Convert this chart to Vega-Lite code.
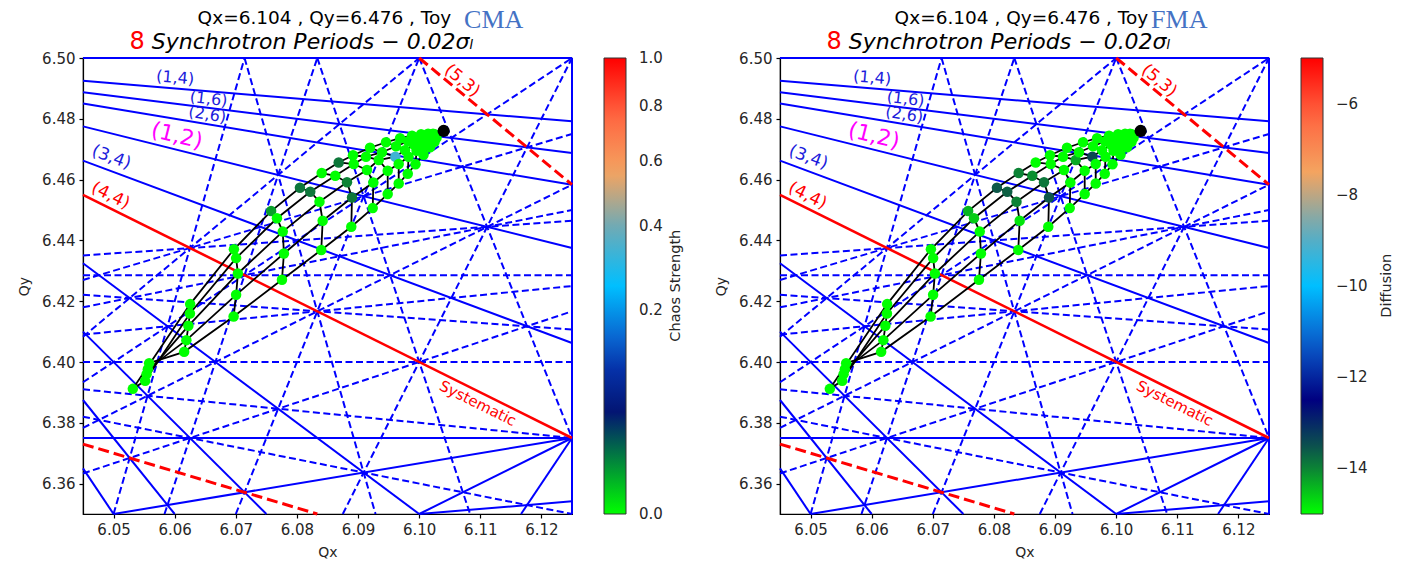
{
"$schema": "https://vega.github.io/schema/vega-lite/v6.json",
"background": "white",
"autosize": {"type": "pad"},
"padding": {"left": 17, "top": 6, "right": 0, "bottom": 0},
"bounds": "flush",
"spacing": 208,
"datasets": {
"res": [
{"qx":6.045,"qy":6.4925,"qx2":6.125,"qy2":6.479167,"kind":"normal"},
{"qx":6.045,"qy":6.48875,"qx2":6.125,"qy2":6.46875,"kind":"normal"},
{"qx":6.045,"qy":6.485,"qx2":6.125,"qy2":6.458333,"kind":"normal"},
{"qx":6.045,"qy":6.4775,"qx2":6.125,"qy2":6.4375,"kind":"normal"},
{"qx":6.045,"qy":6.46625,"qx2":6.125,"qy2":6.40625,"kind":"normal"},
{"qx":6.045,"qy":6.4325,"qx2":6.1,"qy2":6.35,"kind":"normal"},
{"qx":6.045,"qy":6.41,"qx2":6.075,"qy2":6.35,"kind":"normal"},
{"qx":6.045,"qy":6.3875,"qx2":6.06,"qy2":6.35,"kind":"normal"},
{"qx":6.045,"qy":6.365,"qx2":6.05,"qy2":6.35,"kind":"normal"},
{"qx":6.05,"qy":6.35,"qx2":6.125,"qy2":6.375,"kind":"normal"},
{"qx":6.116667,"qy":6.35,"qx2":6.125,"qy2":6.375,"kind":"normal"},
{"qx":6.1,"qy":6.35,"qx2":6.125,"qy2":6.354167,"kind":"normal"},
{"qx":6.1,"qy":6.35,"qx2":6.125,"qy2":6.375,"kind":"normal"},
{"qx":6.045,"qy":6.375,"qx2":6.125,"qy2":6.375,"kind":"normal"},
{"qx":6.045,"qy":6.5,"qx2":6.125,"qy2":6.5,"kind":"normal"},
{"qx":6.125,"qy":6.35,"qx2":6.125,"qy2":6.5,"kind":"normal"},
{"qx":6.045,"qy":6.428571,"qx2":6.125,"qy2":6.428571,"kind":"skew"},
{"qx":6.045,"qy":6.4,"qx2":6.125,"qy2":6.4,"kind":"skew"},
{"qx":6.0875,"qy":6.35,"qx2":6.125,"qy2":6.5,"kind":"skew"},
{"qx":6.045,"qy":6.363333,"qx2":6.125,"qy2":6.416667,"kind":"skew"},
{"qx":6.1,"qy":6.5,"qx2":6.125,"qy2":6.375,"kind":"skew"},
{"qx":6.045,"qy":6.391,"qx2":6.125,"qy2":6.375,"kind":"skew"},
{"qx":6.07,"qy":6.35,"qx2":6.1,"qy2":6.5,"kind":"skew"},
{"qx":6.045,"qy":6.378333,"qx2":6.125,"qy2":6.458333,"kind":"skew"},
{"qx":6.045,"qy":6.409,"qx2":6.125,"qy2":6.425,"kind":"skew"},
{"qx":6.083333,"qy":6.5,"qx2":6.108333,"qy2":6.35,"kind":"skew"},
{"qx":6.045,"qy":6.382,"qx2":6.125,"qy2":6.35,"kind":"skew"},
{"qx":6.058333,"qy":6.35,"qx2":6.083333,"qy2":6.5,"kind":"skew"},
{"qx":6.045,"qy":6.393333,"qx2":6.125,"qy2":6.5,"kind":"skew"},
{"qx":6.045,"qy":6.418,"qx2":6.125,"qy2":6.45,"kind":"skew"},
{"qx":6.071429,"qy":6.5,"qx2":6.092857,"qy2":6.35,"kind":"skew"},
{"qx":6.045,"qy":6.422143,"qx2":6.125,"qy2":6.410714,"kind":"skew"},
{"qx":6.05,"qy":6.35,"qx2":6.071429,"qy2":6.5,"kind":"skew"},
{"qx":6.045,"qy":6.408333,"qx2":6.1,"qy2":6.5,"kind":"skew"},
{"qx":6.045,"qy":6.427,"qx2":6.125,"qy2":6.475,"kind":"skew"},
{"qx":6.045,"qy":6.435,"qx2":6.125,"qy2":6.446429,"kind":"skew"},
{"qx":6.045,"qy":6.455,"qx2":6.125,"qy2":6.375,"kind":"systematic"},
{"qx":6.1,"qy":6.5,"qx2":6.125,"qy2":6.458333,"kind":"systematic skew"},
{"qx":6.045,"qy":6.373,"qx2":6.083333,"qy2":6.35,"kind":"systematic skew"}
],
"fp": [
{"i":1,"j":0,"qx":6.05315,"qy":6.39117,"cma":0,"fma":-15},
{"i":1,"j":1,"qx":6.05517,"qy":6.3938,"cma":0,"fma":-15},
{"i":1,"j":2,"qx":6.0554,"qy":6.396,"cma":0,"fma":-15},
{"i":1,"j":3,"qx":6.05561,"qy":6.39765,"cma":0,"fma":-15},
{"i":1,"j":4,"qx":6.05582,"qy":6.39962,"cma":0,"fma":-15},
{"i":2,"j":0,"qx":6.06253,"qy":6.41904,"cma":0,"fma":-15},
{"i":2,"j":1,"qx":6.06249,"qy":6.41595,"cma":0,"fma":-15},
{"i":2,"j":2,"qx":6.06224,"qy":6.4119,"cma":0,"fma":-15},
{"i":2,"j":3,"qx":6.06191,"qy":6.40719,"cma":0,"fma":-15},
{"i":2,"j":4,"qx":6.06155,"qy":6.40334,"cma":0,"fma":-15},
{"i":3,"j":0,"qx":6.06969,"qy":6.43708,"cma":0,"fma":-15},
{"i":3,"j":1,"qx":6.07005,"qy":6.43418,"cma":0,"fma":-15},
{"i":3,"j":2,"qx":6.07034,"qy":6.42911,"cma":0,"fma":-15},
{"i":3,"j":3,"qx":6.07005,"qy":6.4221,"cma":0,"fma":-15},
{"i":3,"j":4,"qx":6.06964,"qy":6.41496,"cma":0,"fma":-15},
{"i":4,"j":0,"qx":6.07578,"qy":6.44965,"cma":0.006,"fma":-14.4},
{"i":4,"j":1,"qx":6.07673,"qy":6.44728,"cma":0,"fma":-14.6},
{"i":4,"j":2,"qx":6.07768,"qy":6.4429,"cma":0,"fma":-15},
{"i":4,"j":3,"qx":6.07787,"qy":6.43569,"cma":0,"fma":-15},
{"i":4,"j":4,"qx":6.07755,"qy":6.42704,"cma":0,"fma":-15},
{"i":5,"j":0,"qx":6.08049,"qy":6.45732,"cma":0.012,"fma":-13.6},
{"i":5,"j":1,"qx":6.08218,"qy":6.456,"cma":0.012,"fma":-13.7},
{"i":5,"j":2,"qx":6.08369,"qy":6.45271,"cma":0,"fma":-14.0},
{"i":5,"j":3,"qx":6.08421,"qy":6.44646,"cma":0,"fma":-14.8},
{"i":5,"j":4,"qx":6.08398,"qy":6.43685,"cma":0,"fma":-15},
{"i":6,"j":0,"qx":6.08405,"qy":6.46215,"cma":0,"fma":-14.0},
{"i":6,"j":1,"qx":6.08627,"qy":6.46126,"cma":0,"fma":-14.1},
{"i":6,"j":2,"qx":6.08819,"qy":6.45913,"cma":0.01,"fma":-13.9},
{"i":6,"j":3,"qx":6.08901,"qy":6.45412,"cma":0.012,"fma":-13.6},
{"i":6,"j":4,"qx":6.08889,"qy":6.44448,"cma":0,"fma":-15},
{"i":7,"j":0,"qx":6.08683,"qy":6.46564,"cma":0.012,"fma":-15},
{"i":7,"j":1,"qx":6.08929,"qy":6.46512,"cma":0,"fma":-15},
{"i":7,"j":2,"qx":6.09146,"qy":6.46314,"cma":0,"fma":-15},
{"i":7,"j":3,"qx":6.0925,"qy":6.45906,"cma":0,"fma":-15},
{"i":7,"j":4,"qx":6.0924,"qy":6.45063,"cma":0,"fma":-15},
{"i":8,"j":0,"qx":6.08917,"qy":6.46801,"cma":0,"fma":-15},
{"i":8,"j":1,"qx":6.0913,"qy":6.46752,"cma":0,"fma":-15},
{"i":8,"j":2,"qx":6.09338,"qy":6.46643,"cma":0,"fma":-14.3},
{"i":8,"j":3,"qx":6.09485,"qy":6.46291,"cma":0,"fma":-15},
{"i":8,"j":4,"qx":6.09485,"qy":6.45524,"cma":0,"fma":-15},
{"i":9,"j":0,"qx":6.09195,"qy":6.47048,"cma":0,"fma":-15},
{"i":9,"j":1,"qx":6.09392,"qy":6.469,"cma":0,"fma":-15},
{"i":9,"j":2,"qx":6.0961,"qy":6.46752,"cma":0.33,"fma":-13.4},
{"i":9,"j":3,"qx":6.09665,"qy":6.46512,"cma":0,"fma":-15},
{"i":9,"j":4,"qx":6.09665,"qy":6.45873,"cma":0,"fma":-15},
{"i":10,"j":0,"qx":6.09457,"qy":6.47229,"cma":0,"fma":-15},
{"i":10,"j":1,"qx":6.09621,"qy":6.47097,"cma":0,"fma":-15},
{"i":10,"j":2,"qx":6.09768,"qy":6.46966,"cma":0,"fma":-15},
{"i":10,"j":3,"qx":6.09826,"qy":6.46752,"cma":0,"fma":-15},
{"i":10,"j":4,"qx":6.09813,"qy":6.46192,"cma":0,"fma":-15},
{"i":11,"j":0,"qx":6.09687,"qy":6.47361,"cma":0,"fma":-15},
{"i":11,"j":1,"qx":6.09818,"qy":6.47262,"cma":0,"fma":-15},
{"i":11,"j":2,"qx":6.09916,"qy":6.47147,"cma":0,"fma":-15},
{"i":11,"j":3,"qx":6.09957,"qy":6.46949,"cma":0,"fma":-15},
{"i":11,"j":4,"qx":6.0994,"qy":6.46505,"cma":0,"fma":-15},
{"i":12,"j":0,"qx":6.09883,"qy":6.47443,"cma":0,"fma":-15},
{"i":12,"j":1,"qx":6.09981,"qy":6.47377,"cma":0,"fma":-15},
{"i":12,"j":2,"qx":6.10047,"qy":6.47278,"cma":0,"fma":-15},
{"i":12,"j":3,"qx":6.10071,"qy":6.47114,"cma":0,"fma":-15},
{"i":12,"j":4,"qx":6.10071,"qy":6.46818,"cma":0,"fma":-15},
{"i":13,"j":0,"qx":6.10031,"qy":6.47492,"cma":0,"fma":-15},
{"i":13,"j":1,"qx":6.10104,"qy":6.47443,"cma":0,"fma":-15},
{"i":13,"j":2,"qx":6.10153,"qy":6.47377,"cma":0,"fma":-15},
{"i":13,"j":3,"qx":6.1017,"qy":6.47262,"cma":0,"fma":-15},
{"i":13,"j":4,"qx":6.10178,"qy":6.47064,"cma":0,"fma":-15},
{"i":14,"j":0,"qx":6.10145,"qy":6.47509,"cma":0,"fma":-15},
{"i":14,"j":1,"qx":6.10194,"qy":6.47476,"cma":0,"fma":-15},
{"i":14,"j":2,"qx":6.10227,"qy":6.47433,"cma":0,"fma":-15},
{"i":14,"j":3,"qx":6.10243,"qy":6.47361,"cma":0,"fma":-15},
{"i":14,"j":4,"qx":6.10252,"qy":6.47245,"cma":0,"fma":-15},
{"i":15,"j":0,"qx":6.10227,"qy":6.47509,"cma":0,"fma":-15},
{"i":15,"j":1,"qx":6.10252,"qy":6.47492,"cma":0,"fma":-15},
{"i":15,"j":2,"qx":6.10268,"qy":6.47469,"cma":0,"fma":-15},
{"i":15,"j":3,"qx":6.10276,"qy":6.47433,"cma":0,"fma":-15},
{"i":15,"j":4,"qx":6.10284,"qy":6.47377,"cma":0,"fma":-15}
],
"labels14": [{"qx":6.06008,"qy":6.49345,"label":"(1,4)"}],
"labels16": [{"qx":6.06555,"qy":6.48651,"label":"(1,6)"}],
"labels26": [{"qx":6.06535,"qy":6.48134,"label":"(2,6)"}],
"labels12": [{"qx":6.06036,"qy":6.47443,"label":"(1,2)"}],
"labels34": [{"qx":6.04963,"qy":6.46729,"label":"(3,4)"}],
"labels44": [{"qx":6.0495,"qy":6.45468,"label":"(4,4)"}],
"labels53": [{"qx":6.10702,"qy":6.49253,"label":"(5,3)"}],
"labelsys": [{"qx":6.1096,"qy":6.3864,"label":"Systematic"}],
"title1": [{"qx":6.0845,"qy":6.5112,"label":"Qx=6.104 , Qy=6.476 , Toy"}],
"title8": [{"qx":6.05512,"qy":6.50306,"label":"8"}],
"title2": [{"qx":6.05626,"qy":6.50306,"label":"Synchrotron Periods − 0.02σₗ"}],
"bare": [{"qx":6.104,"qy":6.476}]
},
"hconcat": [
{
"width": 489, "height": 456,
"encoding": {
"x": {"field": "qx", "type": "quantitative", "scale": {"domain": [6.045, 6.125], "nice": false, "zero": false}, "axis": {"title": "Qx", "values": [6.05,6.06,6.07,6.08,6.09,6.1,6.11,6.12], "format": ".2f", "labelPadding": 4, "titlePadding": 8, "labelFlush": false}},
"y": {"field": "qy", "type": "quantitative", "scale": {"domain": [6.35, 6.5], "nice": false, "zero": false}, "axis": {"title": "Qy", "values": [6.36,6.38,6.4,6.42,6.44,6.46,6.48,6.5], "format": ".2f", "labelPadding": 4, "titlePadding": 10, "labelFlush": false}}
},
"layer": [
{"data": {"name": "res"}, "transform": [{"filter": "datum.kind == 'normal'"}], "mark": {"type": "rule", "color": "#0000ff", "strokeWidth": 2}, "encoding": {"x2": {"field": "qx2"}, "y2": {"field": "qy2"}}},
{"data": {"name": "res"}, "transform": [{"filter": "datum.kind == 'skew'"}], "mark": {"type": "rule", "color": "#0000ff", "strokeWidth": 2, "strokeDash": [7, 3.5]}, "encoding": {"x2": {"field": "qx2"}, "y2": {"field": "qy2"}}},
{"data": {"name": "res"}, "transform": [{"filter": "datum.kind == 'systematic'"}], "mark": {"type": "rule", "color": "#ff0000", "strokeWidth": 2.6}, "encoding": {"x2": {"field": "qx2"}, "y2": {"field": "qy2"}}},
{"data": {"name": "res"}, "transform": [{"filter": "datum.kind == 'systematic skew'"}], "mark": {"type": "rule", "color": "#ff0000", "strokeWidth": 3, "strokeDash": [11, 5]}, "encoding": {"x2": {"field": "qx2"}, "y2": {"field": "qy2"}}},
{"data": {"name": "fp"}, "mark": {"type": "line", "color": "black", "strokeWidth": 1.8}, "encoding": {"detail": {"field": "j", "type": "nominal"}, "order": {"field": "i", "type": "quantitative"}}},
{"data": {"name": "fp"}, "mark": {"type": "line", "color": "black", "strokeWidth": 1.8}, "encoding": {"detail": {"field": "i", "type": "nominal"}, "order": {"field": "j", "type": "quantitative"}}},
{"data": {"name": "fp"}, "mark": {"type": "circle", "size": 110, "opacity": 1}, "encoding": {"color": {"field": "cma", "type": "quantitative",
  "scale": {"type": "sqrt", "domain": [0,0.015625,0.0625,0.140625,0.25,0.390625,0.5625,0.765625,1], "range": ["#00ff00","#0f6442","#000080","#0a5ccc","#00bfff","#6aaab8","#f4a460","#ff6440","#ff0000"], "interpolate": "rgb", "clamp": true},
  "legend": {"orient": "right", "offset": 32, "padding": 0, "title": null, "direction": "vertical", "gradientLength": 456, "gradientThickness": 22, "gradientStrokeColor": "#333333", "gradientStrokeWidth": 1, "values": [1e-10,0.2,0.4,0.6,0.8,0.9999999], "format": ".1f", "labelFontSize": 15, "labelOffset": 13, "labelColor": "#262626", "labelOverlap": false, "labelFont": "DejaVu Sans"}}}},
{"data": {"name": "bare"}, "mark": {"type": "circle", "size": 150, "color": "black", "opacity": 1}},
{"data": {"name": "labels14"}, "mark": {"type": "text", "fontSize": 16, "angle": 4.7, "color": "#1c1cdc", "align": "center", "baseline": "middle"}, "encoding": {"text": {"field": "label"}}},
{"data": {"name": "labels16"}, "mark": {"type": "text", "fontSize": 16, "angle": 7.1, "color": "#1c1cdc", "align": "center", "baseline": "middle"}, "encoding": {"text": {"field": "label"}}},
{"data": {"name": "labels26"}, "mark": {"type": "text", "fontSize": 16, "angle": 9.4, "color": "#1c1cdc", "align": "center", "baseline": "middle"}, "encoding": {"text": {"field": "label"}}},
{"data": {"name": "labels12"}, "mark": {"type": "text", "fontSize": 22, "angle": 14, "color": "#ff00ff", "align": "center", "baseline": "middle"}, "encoding": {"text": {"field": "label"}}},
{"data": {"name": "labels34"}, "mark": {"type": "text", "fontSize": 17, "angle": 20.5, "color": "#1c1cdc", "align": "center", "baseline": "middle"}, "encoding": {"text": {"field": "label"}}},
{"data": {"name": "labels44"}, "mark": {"type": "text", "fontSize": 17, "angle": 26.4, "color": "#ff0000", "align": "center", "baseline": "middle"}, "encoding": {"text": {"field": "label"}}},
{"data": {"name": "labels53"}, "mark": {"type": "text", "fontSize": 17, "angle": 39.7, "color": "#ff0000", "align": "center", "baseline": "middle"}, "encoding": {"text": {"field": "label"}}},
{"data": {"name": "labelsys"}, "mark": {"type": "text", "fontSize": 15, "angle": 26.4, "color": "#ff0000", "align": "center", "baseline": "middle"}, "encoding": {"text": {"field": "label"}}},
{"data": {"name": "title1"}, "mark": {"type": "text", "fontSize": 18.5, "color": "black", "align": "center", "baseline": "alphabetic"}, "encoding": {"text": {"field": "label"}}},
{"data": {"name": "title8"}, "mark": {"type": "text", "fontSize": 24, "color": "#ff0000", "align": "right", "baseline": "alphabetic"}, "encoding": {"text": {"field": "label"}}},
{"data": {"name": "title2"}, "mark": {"type": "text", "fontSize": 22, "fontStyle": "italic", "color": "black", "align": "left", "baseline": "alphabetic"}, "encoding": {"text": {"field": "label"}}},
{"data": {"values": [{"qx": 6.10734, "qy": 6.5098, "label": "CMA"}]}, "mark": {"type": "text", "fontSize": 26, "font": "Liberation Serif", "color": "#4472c4", "align": "left", "baseline": "alphabetic"}, "encoding": {"text": {"field": "label"}}},
{"data": {"values": [{"qx": 6.14205, "qy": 6.4251, "label": "Chaos Strength"}]}, "mark": {"type": "text", "fontSize": 14.5, "angle": 270, "color": "#262626", "align": "center", "baseline": "middle"}, "encoding": {"text": {"field": "label"}}}
]
},
{
"width": 489, "height": 456,
"encoding": {
"x": {"field": "qx", "type": "quantitative", "scale": {"domain": [6.045, 6.125], "nice": false, "zero": false}, "axis": {"title": "Qx", "values": [6.05,6.06,6.07,6.08,6.09,6.1,6.11,6.12], "format": ".2f", "labelPadding": 4, "titlePadding": 8, "labelFlush": false}},
"y": {"field": "qy", "type": "quantitative", "scale": {"domain": [6.35, 6.5], "nice": false, "zero": false}, "axis": {"title": "Qy", "values": [6.36,6.38,6.4,6.42,6.44,6.46,6.48,6.5], "format": ".2f", "labelPadding": 4, "titlePadding": 10, "labelFlush": false}}
},
"layer": [
{"data": {"name": "res"}, "transform": [{"filter": "datum.kind == 'normal'"}], "mark": {"type": "rule", "color": "#0000ff", "strokeWidth": 2}, "encoding": {"x2": {"field": "qx2"}, "y2": {"field": "qy2"}}},
{"data": {"name": "res"}, "transform": [{"filter": "datum.kind == 'skew'"}], "mark": {"type": "rule", "color": "#0000ff", "strokeWidth": 2, "strokeDash": [7, 3.5]}, "encoding": {"x2": {"field": "qx2"}, "y2": {"field": "qy2"}}},
{"data": {"name": "res"}, "transform": [{"filter": "datum.kind == 'systematic'"}], "mark": {"type": "rule", "color": "#ff0000", "strokeWidth": 2.6}, "encoding": {"x2": {"field": "qx2"}, "y2": {"field": "qy2"}}},
{"data": {"name": "res"}, "transform": [{"filter": "datum.kind == 'systematic skew'"}], "mark": {"type": "rule", "color": "#ff0000", "strokeWidth": 3, "strokeDash": [11, 5]}, "encoding": {"x2": {"field": "qx2"}, "y2": {"field": "qy2"}}},
{"data": {"name": "fp"}, "mark": {"type": "line", "color": "black", "strokeWidth": 1.8}, "encoding": {"detail": {"field": "j", "type": "nominal"}, "order": {"field": "i", "type": "quantitative"}}},
{"data": {"name": "fp"}, "mark": {"type": "line", "color": "black", "strokeWidth": 1.8}, "encoding": {"detail": {"field": "i", "type": "nominal"}, "order": {"field": "j", "type": "quantitative"}}},
{"data": {"name": "fp"}, "mark": {"type": "circle", "size": 110, "opacity": 1}, "encoding": {"color": {"field": "fma", "type": "quantitative",
  "scale": {"type": "linear", "domain": [-15,-13.75,-12.5,-11.25,-10,-8.75,-7.5,-6.25,-5], "range": ["#00ff00","#0f6442","#000080","#0a5ccc","#00bfff","#6aaab8","#f4a460","#ff6440","#ff0000"], "interpolate": "rgb", "clamp": true},
  "legend": {"orient": "right", "offset": 32, "padding": 0, "title": null, "direction": "vertical", "gradientLength": 456, "gradientThickness": 22, "gradientStrokeColor": "#333333", "gradientStrokeWidth": 1, "values": [-14,-12,-10,-8,-6], "format": "d", "labelFontSize": 15, "labelOffset": 13, "labelColor": "#262626", "labelOverlap": false, "labelFont": "DejaVu Sans"}}}},
{"data": {"name": "bare"}, "mark": {"type": "circle", "size": 150, "color": "black", "opacity": 1}},
{"data": {"name": "labels14"}, "mark": {"type": "text", "fontSize": 16, "angle": 4.7, "color": "#1c1cdc", "align": "center", "baseline": "middle"}, "encoding": {"text": {"field": "label"}}},
{"data": {"name": "labels16"}, "mark": {"type": "text", "fontSize": 16, "angle": 7.1, "color": "#1c1cdc", "align": "center", "baseline": "middle"}, "encoding": {"text": {"field": "label"}}},
{"data": {"name": "labels26"}, "mark": {"type": "text", "fontSize": 16, "angle": 9.4, "color": "#1c1cdc", "align": "center", "baseline": "middle"}, "encoding": {"text": {"field": "label"}}},
{"data": {"name": "labels12"}, "mark": {"type": "text", "fontSize": 22, "angle": 14, "color": "#ff00ff", "align": "center", "baseline": "middle"}, "encoding": {"text": {"field": "label"}}},
{"data": {"name": "labels34"}, "mark": {"type": "text", "fontSize": 17, "angle": 20.5, "color": "#1c1cdc", "align": "center", "baseline": "middle"}, "encoding": {"text": {"field": "label"}}},
{"data": {"name": "labels44"}, "mark": {"type": "text", "fontSize": 17, "angle": 26.4, "color": "#ff0000", "align": "center", "baseline": "middle"}, "encoding": {"text": {"field": "label"}}},
{"data": {"name": "labels53"}, "mark": {"type": "text", "fontSize": 17, "angle": 39.7, "color": "#ff0000", "align": "center", "baseline": "middle"}, "encoding": {"text": {"field": "label"}}},
{"data": {"name": "labelsys"}, "mark": {"type": "text", "fontSize": 15, "angle": 26.4, "color": "#ff0000", "align": "center", "baseline": "middle"}, "encoding": {"text": {"field": "label"}}},
{"data": {"name": "title1"}, "mark": {"type": "text", "fontSize": 18.5, "color": "black", "align": "center", "baseline": "alphabetic"}, "encoding": {"text": {"field": "label"}}},
{"data": {"name": "title8"}, "mark": {"type": "text", "fontSize": 24, "color": "#ff0000", "align": "right", "baseline": "alphabetic"}, "encoding": {"text": {"field": "label"}}},
{"data": {"name": "title2"}, "mark": {"type": "text", "fontSize": 22, "fontStyle": "italic", "color": "black", "align": "left", "baseline": "alphabetic"}, "encoding": {"text": {"field": "label"}}},
{"data": {"values": [{"qx": 6.10571, "qy": 6.5098, "label": "FMA"}]}, "mark": {"type": "text", "fontSize": 26, "font": "Liberation Serif", "color": "#4472c4", "align": "left", "baseline": "alphabetic"}, "encoding": {"text": {"field": "label"}}},
{"data": {"values": [{"qx": 6.14434, "qy": 6.4251, "label": "Diffusion"}]}, "mark": {"type": "text", "fontSize": 14.5, "angle": 270, "color": "#262626", "align": "center", "baseline": "middle"}, "encoding": {"text": {"field": "label"}}}
]
}
],
"resolve": {"scale": {"color": "independent"}, "legend": {"color": "independent"}},
"config": {
"font": "DejaVu Sans",
"view": {"stroke": "#000000", "strokeWidth": 1.2},
"axis": {"grid": false, "domainColor": "#000000", "domainWidth": 1.2, "tickColor": "#000000", "tickSize": 4, "tickWidth": 1.2, "labelFontSize": 15, "labelColor": "#262626", "titleFontSize": 14, "titleFontWeight": "normal", "titleColor": "#262626", "labelFont": "DejaVu Sans", "titleFont": "DejaVu Sans"},
"text": {"font": "DejaVu Sans"}
}
}
